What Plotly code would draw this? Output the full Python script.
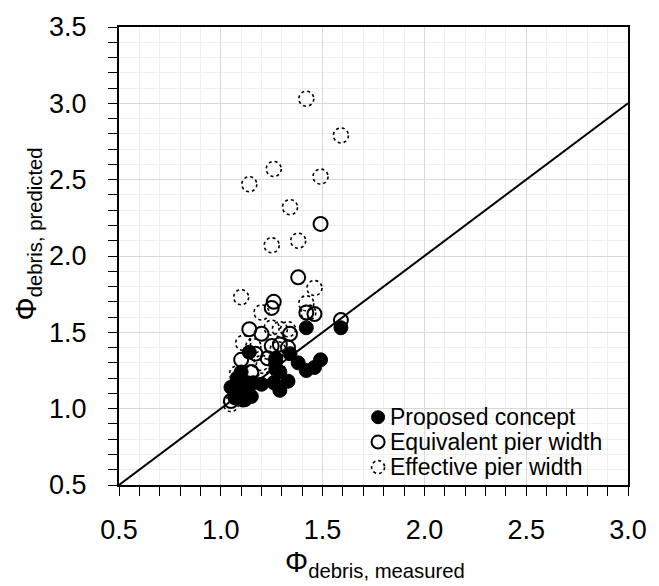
import plotly.graph_objects as go

# Proposed concept (filled circles)
prop_x = [1.42, 1.59, 1.14, 1.34, 1.38, 1.42, 1.46, 1.49, 1.10, 1.27, 1.29, 1.33, 1.29, 1.26,
          1.20, 1.05, 1.07, 1.10, 1.14, 1.13, 1.27, 1.16, 1.12, 1.27, 1.09, 1.15, 1.08, 1.12]
prop_y = [1.53, 1.53, 1.37, 1.36, 1.30, 1.25, 1.27, 1.32, 1.24, 1.33, 1.24, 1.18, 1.12, 1.17,
          1.16, 1.14, 1.07, 1.12, 1.09, 1.17, 1.26, 1.17, 1.06, 1.31, 1.19, 1.08, 1.20, 1.13]

# Equivalent pier width (open circles)
equiv_x = [1.49, 1.38, 1.26, 1.25, 1.42, 1.46, 1.59, 1.14, 1.20, 1.34, 1.25, 1.33, 1.10, 1.29,
           1.15, 1.05, 1.11, 1.23, 1.17]
equiv_y = [2.21, 1.86, 1.70, 1.66, 1.63, 1.62, 1.58, 1.52, 1.49, 1.49, 1.41, 1.40, 1.32, 1.42,
           1.24, 1.05, 1.06, 1.33, 1.36]

# Effective pier width (dotted circles)
eff_x = [1.42, 1.59, 1.26, 1.49, 1.14, 1.34, 1.25, 1.38, 1.46, 1.10, 1.42, 1.20, 1.43, 1.25,
         1.33, 1.11, 1.16, 1.29, 1.20, 1.21, 1.08, 1.15, 1.28, 1.05, 1.28]
eff_y = [3.03, 2.79, 2.57, 2.52, 2.47, 2.32, 2.07, 2.10, 1.79, 1.73, 1.69, 1.63, 1.63, 1.53,
         1.52, 1.43, 1.41, 1.52, 1.30, 1.28, 1.23, 1.23, 1.39, 1.03, 1.25]

# 1:1 line
line_x = [0.5, 3.0]
line_y = [0.5, 3.0]

legend_names = ["Proposed concept", "Equivalent pier width", "Effective pier width"]

FONT = "Liberation Sans, Arial, sans-serif"
MS = 14

fig = go.Figure()

fig.add_trace(go.Scatter(x=line_x, y=line_y, mode="lines",
                         line=dict(color="black", width=2), showlegend=False, hoverinfo="skip"))

fig.add_trace(go.Scatter(x=equiv_x, y=equiv_y, mode="markers", name=legend_names[1],
                         marker=dict(symbol="circle-open", size=MS, color="black",
                                     line=dict(width=2, color="black")),
                         showlegend=False))

fig.add_trace(go.Scatter(x=prop_x, y=prop_y, mode="markers", name=legend_names[0],
                         marker=dict(symbol="circle", size=MS, color="black",
                                     line=dict(width=1, color="black")),
                         showlegend=False))

shapes = []
r = MS / 2 + 0.5
for xv, yv in zip(eff_x, eff_y):
    shapes.append(dict(type="circle", xref="x", yref="y", xsizemode="pixel", ysizemode="pixel",
                       xanchor=xv, yanchor=yv, x0=-r, x1=r, y0=-r, y1=r,
                       line=dict(color="black", width=1.6, dash="dot"), layer="above"))

# manual legend (no frame), lower right inside plot
leg_x_sym = 0.509
leg_x_txt = 0.530
leg_rows = [0.148, 0.094, 0.039]
rl = 6.5
annotations = []
for i, (name, yy) in enumerate(zip(legend_names, leg_rows)):
    if i == 0:
        line = dict(color="black", width=1)
        fill = "black"
    elif i == 1:
        line = dict(color="black", width=2)
        fill = "rgba(0,0,0,0)"
    else:
        line = dict(color="black", width=1.6, dash="dot")
        fill = "rgba(0,0,0,0)"
    shapes.append(dict(type="circle", xref="paper", yref="paper", xsizemode="pixel",
                       ysizemode="pixel", xanchor=leg_x_sym, yanchor=yy,
                       x0=-rl, x1=rl, y0=-rl, y1=rl, fillcolor=fill, line=line))
    annotations.append(dict(x=leg_x_txt, y=yy, xref="paper", yref="paper", text=name,
                            showarrow=False, xanchor="left", yanchor="middle",
                            height=24, borderpad=0,
                            font=dict(family=FONT, size=23, color="black")))

# axis titles
annotations.append(dict(x=0.503, y=-0.172, xref="paper", yref="paper",
                        text="Φ<sub>debris, measured</sub>", showarrow=False,
                        xanchor="center", yanchor="middle",
                        font=dict(family=FONT, size=29, color="black")))
annotations.append(dict(x=-0.179, y=0.549, xref="paper", yref="paper",
                        text="Φ<sub>debris, predicted</sub>", showarrow=False, textangle=-90,
                        xanchor="center", yanchor="middle",
                        font=dict(family=FONT, size=29, color="black")))

axis_common = dict(
    tick0=0.5, dtick=0.5, tickformat=".1f",
    showgrid=True, gridcolor="#d9d9d9", gridwidth=1,
    ticks="outside", ticklen=9, tickwidth=1, tickcolor="black",
    showline=True, linecolor="black", linewidth=2, mirror=True,
    zeroline=False,
    tickfont=dict(family=FONT, size=27, color="black"),
    minor=dict(dtick=0.1, tick0=0.5, showgrid=True, gridcolor="#efefef", gridwidth=1,
               ticks="outside", ticklen=9, tickcolor="black", tickwidth=1),
)

xaxis = dict(axis_common)
xaxis.update(range=[0.5, 3.0], ticklabelstandoff=11)
yaxis = dict(axis_common)
yaxis.update(range=[0.5, 3.5], ticklabelstandoff=16)

fig.update_layout(
    width=659, height=586,
    margin=dict(l=119, r=25, t=19, b=101),
    paper_bgcolor="white", plot_bgcolor="white",
    xaxis=xaxis, yaxis=yaxis,
    shapes=shapes, annotations=annotations,
    showlegend=False,
)

fig.write_html("out.html")
